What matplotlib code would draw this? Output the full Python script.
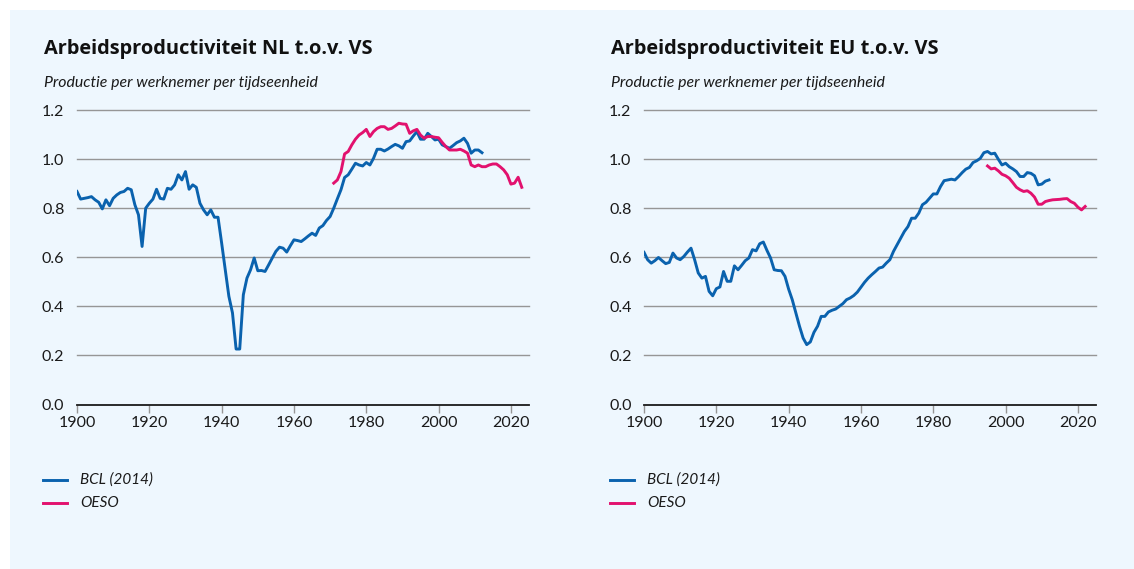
import numpy as np
import matplotlib.pyplot as plt
from matplotlib.patches import Rectangle

# ---- data ----
nl_bcl_years = list(range(1900, 2013))
nl_bcl = [0.868, 0.837, 0.84, 0.843, 0.847, 0.834, 0.824, 0.797, 0.834, 0.81,
          0.84, 0.854, 0.864, 0.868, 0.881, 0.875, 0.814, 0.773, 0.644, 0.80,
          0.82, 0.837, 0.877, 0.84, 0.837, 0.881, 0.877, 0.895, 0.936, 0.915,
          0.949, 0.877, 0.895, 0.885, 0.82, 0.793, 0.773, 0.793, 0.763, 0.763,
          0.658, 0.549, 0.441, 0.373, 0.226, 0.226, 0.447, 0.515, 0.549, 0.597,
          0.545, 0.546, 0.542, 0.569, 0.597, 0.624, 0.641, 0.637, 0.621, 0.647,
          0.671, 0.668, 0.664, 0.675, 0.687, 0.698, 0.689, 0.719, 0.729, 0.75,
          0.766, 0.80, 0.838, 0.875, 0.925, 0.936, 0.959, 0.983, 0.976, 0.972,
          0.986, 0.976, 1.003, 1.04, 1.04, 1.033, 1.041, 1.051, 1.06, 1.054,
          1.044, 1.071, 1.074, 1.094, 1.112, 1.081, 1.081, 1.105, 1.092, 1.078,
          1.081, 1.058, 1.051, 1.044, 1.055, 1.067, 1.074, 1.085, 1.064, 1.024,
          1.037, 1.037, 1.026]
nl_oeso_years = list(range(1971, 2024))
nl_oeso = [0.902, 0.915, 0.949, 1.021, 1.031, 1.058, 1.081, 1.098, 1.108, 1.121,
           1.092, 1.112, 1.125, 1.132, 1.132, 1.121, 1.125, 1.135, 1.146, 1.143,
           1.142, 1.105, 1.115, 1.121, 1.098, 1.085, 1.092, 1.092, 1.089, 1.087,
           1.068, 1.051, 1.037, 1.037, 1.037, 1.04, 1.033, 1.024, 0.976, 0.969,
           0.976, 0.969, 0.969, 0.976, 0.98, 0.98, 0.969, 0.956, 0.936, 0.898,
           0.902, 0.926, 0.885]

eu_bcl_years = list(range(1900, 2013))
eu_bcl = [0.62, 0.59, 0.576, 0.586, 0.599, 0.586, 0.574, 0.579, 0.617, 0.597,
          0.59, 0.603, 0.621, 0.637, 0.59, 0.536, 0.515, 0.522, 0.461, 0.443,
          0.472, 0.479, 0.542, 0.502, 0.502, 0.565, 0.549, 0.567, 0.586, 0.597,
          0.631, 0.626, 0.655, 0.662, 0.628, 0.597, 0.549, 0.546, 0.545, 0.522,
          0.47, 0.427, 0.373, 0.319, 0.271, 0.244, 0.255, 0.294, 0.319, 0.359,
          0.359, 0.377, 0.384, 0.389, 0.40, 0.411, 0.427, 0.434, 0.444, 0.458,
          0.478, 0.498, 0.515, 0.529, 0.542, 0.556, 0.56, 0.576, 0.59, 0.624,
          0.651, 0.678, 0.705, 0.725, 0.759, 0.759, 0.78, 0.814, 0.824, 0.841,
          0.858, 0.858, 0.888, 0.912, 0.915, 0.918, 0.915, 0.929, 0.945, 0.959,
          0.966, 0.986, 0.993, 1.003, 1.026, 1.031, 1.021, 1.024, 0.999, 0.976,
          0.983, 0.969, 0.96, 0.949, 0.929, 0.929, 0.945, 0.942, 0.932, 0.895,
          0.898, 0.91, 0.915]
eu_oeso_years = list(range(1995, 2023))
eu_oeso = [0.972, 0.96, 0.963, 0.952, 0.938, 0.932, 0.922, 0.904, 0.885, 0.875,
           0.868, 0.871, 0.861, 0.845, 0.816, 0.816, 0.827, 0.831, 0.834, 0.835,
           0.836, 0.838, 0.839, 0.827, 0.82, 0.804, 0.793, 0.807]

titles = ["Arbeidsproductiviteit NL t.o.v. VS", "Arbeidsproductiviteit EU t.o.v. VS"]
subtitle = "Productie per werknemer per tijdseenheid"
labels = ["BCL (2014)", "OESO"]
x_ticks = [1900, 1920, 1940, 1960, 1980, 2000, 2020]
y_ticks = [0.0, 0.2, 0.4, 0.6, 0.8, 1.0, 1.2]

BLUE = "#0A62AE"
PINK = "#E2116E"
PANEL = "#EEF7FE"
GRID = "#969696"
FONT = "Lato"

W, H = 1134, 569
fig = plt.figure(figsize=(W / 100, H / 100), dpi=100)
fig.patch.set_facecolor("white")
fig.patches.append(Rectangle((10 / W, 0), 1, 1 - 10 / H, transform=fig.transFigure,
                             facecolor=PANEL, edgecolor="none", zorder=-10))

panels = [
    (77, (nl_bcl_years, nl_bcl), (nl_oeso_years, nl_oeso)),
    (644, (eu_bcl_years, eu_bcl), (eu_oeso_years, eu_oeso)),
]

for i, (x0, bcl, oeso) in enumerate(panels):
    ax = fig.add_axes([x0 / W, 1 - 404.5 / H, 452 / W, 294.5 / H])
    ax.set_facecolor("none")
    ax.plot(*bcl, color=BLUE, linewidth=2.1, solid_joinstyle="round", zorder=3)
    ax.plot(*oeso, color=PINK, linewidth=2.1, solid_joinstyle="round", zorder=3)
    ax.set_xlim(1900, 2025)
    ax.set_ylim(0, 1.2)
    for yv in y_ticks[1:]:
        ax.axhline(yv, color=GRID, linewidth=1.0, zorder=1, clip_on=False)
    for s in ["top", "right", "left"]:
        ax.spines[s].set_visible(False)
    ax.spines["bottom"].set_color("#1a1a1a")
    ax.spines["bottom"].set_linewidth(1.3)
    ax.set_xticks(x_ticks)
    ax.set_yticks(y_ticks)
    ax.set_yticklabels([f"{v:.1f}" for v in y_ticks])
    ax.tick_params(axis="x", length=6, width=1, color=GRID, pad=2,
                   labelsize=11.5, labelcolor="#1a1a1a")
    ax.tick_params(axis="y", length=0, pad=9, labelsize=11.5, labelcolor="#1a1a1a")
    for lab in ax.get_xticklabels() + ax.get_yticklabels():
        lab.set_family(FONT)

    tx = (x0 - 33) / W
    fig.text(tx, 1 - 54 / H, titles[i], fontsize=14.4, fontweight="bold",
             family="Open Sans", color="#111111", va="baseline")
    fig.text(tx, 1 - 87 / H, subtitle, fontsize=11.4, fontstyle="italic",
             family=FONT, color="#1a1a1a", va="baseline")

    # legend
    lx = (x0 - 34) / W
    for k, (lbl, c) in enumerate(zip(labels, [BLUE, PINK])):
        yy = 1 - (480 + 23 * k) / H
        fig.add_artist(plt.Line2D([lx, lx + 24 / W], [yy, yy], color=c,
                                  linewidth=2.1, transform=fig.transFigure))
        fig.text(lx + 37 / W, yy, lbl, fontsize=11, fontstyle="italic",
                 family=FONT, color="#1a1a1a", va="center")

fig.savefig("out.png", dpi=100, facecolor="white")
